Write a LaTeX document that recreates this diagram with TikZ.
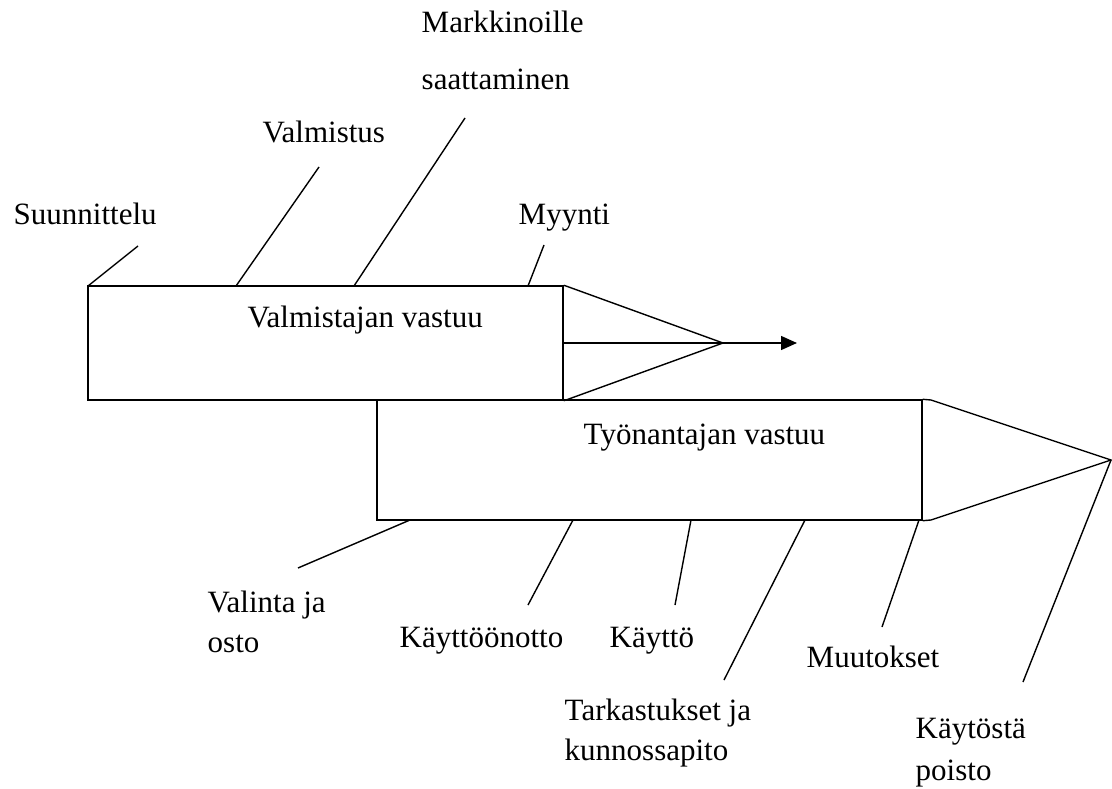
\documentclass[tikz,border=0pt]{standalone}
\usepackage{fontspec}
\setmainfont{Liberation Serif}
\usetikzlibrary{arrows.meta}
\begin{document}
\begin{tikzpicture}[x=1pt,y=-1pt,line width=1.4pt,line join=miter,
  lbl/.style={inner sep=0pt,anchor=base west,font=\fontsize{31}{37}\selectfont},
  boxshape/.style={draw,inner sep=0pt,line width=1.4pt},
  branch/.style={line width=1.4pt}]
\useasboundingbox (0,0) rectangle (1112,789);
% boxes
\node[boxshape,minimum width=475pt,minimum height=114pt] (b1) at (325.5,343) {};
\node[boxshape,minimum width=545pt,minimum height=120pt] (b2) at (649.5,460) {};
% texts
\node[lbl] (t1) at (247,327) {Valmistajan vastuu};
\node[lbl] (t2) at (583,444) {Työnantajan vastuu};
\node[lbl] (mA) at (421,33) {Markkinoille};
\node[lbl] (mB) at (421,90) {saattaminen};
\node[lbl] (val) at (262,143) {Valmistus};
\node[lbl] (suu) at (13,225) {Suunnittelu};
\node[lbl] (myy) at (518,225) {Myynti};
\node[lbl] (vA) at (207,612) {Valinta ja};
\node[lbl] (vB) at (207,652) {osto};
\node[lbl] (kon) at (399,647) {Käyttöönotto};
\node[lbl] (kay) at (609,647) {Käyttö};
\node[lbl] (tA) at (564,720) {Tarkastukset ja};
\node[lbl] (tB) at (564,760) {kunnossapito};
\node[lbl] (muu) at (806,667) {Muutokset};
\node[lbl] (pA) at (915,738) {Käytöstä};
\node[lbl] (pB) at (915,780) {poisto};
% arrow heads (triangles)
\coordinate (apex1) at (723,343);
\coordinate (tip1) at (797,343);
\coordinate (apex2) at (1111,460);
\draw (b1.north east) -- (566,286) -- (apex1) -- (566,400) -- (b1.south east);
\draw (b1.east) -- (apex1);
\draw[-{Triangle[length=16pt,width=14pt]}] (apex1) -- (tip1);
\draw (b2.north east) -- (931,400) -- (apex2) -- (931,520) -- (b2.south east);
% branch end points
\coordinate (s0) at (88,286);   \coordinate (s1) at (138,246);
\coordinate (v0) at (236,286);  \coordinate (v1) at (319,167);
\coordinate (m0) at (354,286);  \coordinate (m1) at (465,118);
\coordinate (y0) at (528,286);  \coordinate (y1) at (544,245);
\coordinate (o0) at (410,520);  \coordinate (o1) at (298,568);
\coordinate (k0) at (573,520);  \coordinate (k1) at (528,605);
\coordinate (c0) at (691,520);  \coordinate (c1) at (675,605);
\coordinate (r0) at (805,520);  \coordinate (r1) at (724,680);
\coordinate (u0) at (919,520);  \coordinate (u1) at (882,627);
\coordinate (p1) at (1023,682);
\draw[branch] (s0) -- (s1);
\draw[branch] (v0) -- (v1);
\draw[branch] (m0) -- (m1);
\draw[branch] (y0) -- (y1);
\draw[branch] (o0) -- (o1);
\draw[branch] (k0) -- (k1);
\draw[branch] (c0) -- (c1);
\draw[branch] (r0) -- (r1);
\draw[branch] (u0) -- (u1);
\draw[branch] (apex2) -- (p1);
\end{tikzpicture}
\end{document}
